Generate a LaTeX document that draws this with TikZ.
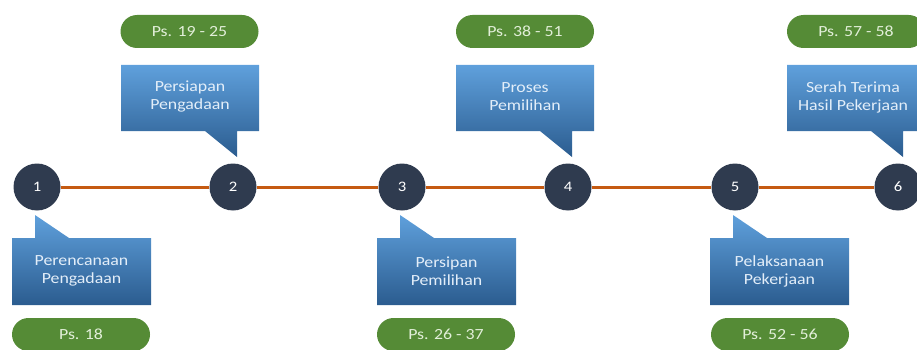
\documentclass[tikz,border=0pt]{standalone}
\usepackage{fontspec}
\setmainfont{Carlito}[FakeStretch=1.15]
\usepackage{tikz}
\definecolor{navy}{HTML}{2F3B4F}
\definecolor{rust}{HTML}{C55A11}
\definecolor{leaf}{HTML}{558B36}
\definecolor{leaftext}{HTML}{E2EFD9}
\definecolor{boxtop}{HTML}{5FA0DC}
\definecolor{boxbot}{HTML}{2B5C8F}
\definecolor{boxtext}{HTML}{E3EEF9}

% callout below the line, tail pointing up (#1 = left edge)
\newcommand{\lowcallout}[1]{%
  \shade[top color=boxtop, bottom color=boxbot]
    (#1,238) -- (#1+23,238) -- (#1+23,215) -- (#1+57,238) -- (#1+139,238)
    -- (#1+139,305) -- (#1,305) -- cycle;}
% callout above the line, tail pointing down (#1 = left edge)
\newcommand{\highcallout}[1]{%
  \shade[top color=boxtop, bottom color=boxbot]
    (#1,65) -- (#1+138,65) -- (#1+138,131) -- (#1+116,131) -- (#1+116,157)
    -- (#1+84,131) -- (#1,131) -- cycle;}

\begin{document}
\begin{tikzpicture}[x=1pt, y=-1pt,
    stage/.style={circle, fill=navy, text=white, minimum size=47pt, inner sep=0pt,
      font=\fontsize{14.5}{14.5}\selectfont},
    pill/.style={rectangle, rounded corners=16.5pt, fill=leaf, text=leaftext,
      minimum width=138pt, minimum height=33pt, inner sep=0pt,
      font=\fontsize{15.5}{15.5}\selectfont},
    label/.style={text=boxtext, align=center, font=\fontsize{15.5}{18}\selectfont},
    timeline/.style={rust, line width=3pt}]
    \useasboundingbox (0,0) rectangle (917,350);
    \clip (0,0) rectangle (917,350);

    % Stages on the timeline
    \node[stage] (c1) at (37,187) {1};
    \node[stage] (c2) at (233,187) {2};
    \node[stage] (c3) at (402,187) {3};
    \node[stage] (c4) at (568,187) {4};
    \node[stage] (c5) at (735,187) {5};
    \node[stage] (c6) at (898,187) {6};

    % Timeline
    \foreach \i/\j in {1/2,2/3,3/4,4/5,5/6}
        \draw[timeline] (c\i) -- (c\j);

    % Callouts
    \lowcallout{12}
    \lowcallout{377}
    \lowcallout{710}
    \highcallout{121}
    \highcallout{456}
    \highcallout{787}

    % Callout texts
    \node[label] (t1) at (81.5,271) {Perencanaan\\Pengadaan};
    \node[label] (t2) at (190,97) {Persiapan\\Pengadaan};
    \node[label] (t3) at (446.5,271) {Persipan\\Pemilihan};
    \node[label] (t4) at (525,97) {Proses\\Pemilihan};
    \node[label] (t5) at (779.5,271) {Pelaksanaan\\Pekerjaan};
    \node[label] (t6) at (853,97) {Serah Terima\\Hasil Pekerjaan};

    % Articles
    \node[pill] (p1) at (81,334.5) {Ps. 18};
    \node[pill] (p2) at (189.5,31.5) {Ps. 19 - 25};
    \node[pill] (p3) at (446,334.5) {Ps. 26 - 37};
    \node[pill] (p4) at (525,31.5) {Ps. 38 - 51};
    \node[pill] (p5) at (780,334.5) {Ps. 52 - 56};
    \node[pill] (p6) at (856,31.5) {Ps. 57 - 58};
\end{tikzpicture}
\end{document}
